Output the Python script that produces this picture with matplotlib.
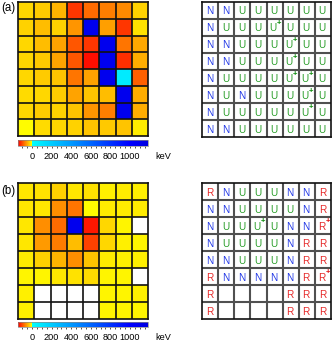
import numpy as np
import matplotlib
matplotlib.use('Agg')
import matplotlib.pyplot as plt
import matplotlib.transforms as mtransforms
from matplotlib.colors import LinearSegmentedColormap, Normalize
from matplotlib.cm import ScalarMappable

plt.rcParams['font.family'] = ['Liberation Sans', 'DejaVu Sans']

# ---------------- data ----------------
VMIN, VMAX = -143, 1184
B = 1100           # strongly positive (blue) cells
NA = np.nan        # empty (white) cells

a_values = [
    [-23, -29, -43, -112, -83, -72, -66, -26],
    [-26, -37, -26, -60, B, -54, -112, -17],
    [-23, -37, -52, -94, -112, B, -77, -49],
    [-23, -31, -52, -94, -135, B, -117, -46],
    [-23, -29, -34, -77, -52, B, 80, -89],
    [-20, -23, -29, -52, -34, -37, B, -46],
    [-23, -29, -26, -34, -60, -72, B, -46],
    [-3, -20, -23, -26, -34, -31, -34, -11],
]

b_values = [
    [-14, -17, -26, -14, -17, -9, -11, -9],
    [-14, -14, -63, -77, -3, -11, -11, -11],
    [-14, -63, -83, B, -129, -23, -6, NA],
    [-14, -57, -74, -37, -106, -23, -9, -6],
    [-11, -26, -43, -63, -34, -11, -9, -9],
    [-6, -6, -14, -17, -20, -6, -6, NA],
    [-9, NA, NA, NA, NA, -6, -6, -9],
    [-9, NA, NA, NA, NA, -6, -6, -6],
]

a_labels = [
    "N N U U U U U U",
    "N U U U U+ U U U",
    "N N U U U U+ U U",
    "N N U U U U+ U U",
    "N U U U U U+ U+ U",
    "N U N U U U U+ U",
    "N U U U U U U+ U",
    "N N U U U U U U",
]

b_labels = [
    "R N U U U N N R",
    "N N U U U U N R",
    "N U U U+ U N N R+",
    "N U U U U N R R",
    "N N U U U N R R",
    "R N N N N N R R+",
    "R - - - - R R R",
    "R - - - - R R R",
]

cbar_ticks = [0, 200, 400, 600, 800, 1000]
cbar_unit = "keV"
panel_names = ["(a)", "(b)"]

letter_colors = {"N": "#2238e6", "U": "#2a9e2a", "R": "#e62a2a"}
plus_colors = {"N": "#1030d0", "U": "#0a8a0a", "R": "#e01010"}

# ---------------- colormap ----------------
z = (0 - VMIN) / (VMAX - VMIN)
zb = (1000 - VMIN) / (VMAX - VMIN)
cmap = LinearSegmentedColormap.from_list(
    "ryb",
    [(0.0, (1, 0, 0)), (z - 0.001, (1, 1, 0)), (z, (0, 1, 1)),
     (zb, (0, 0, 1)), (1.0, (0, 0, 0.88))], N=1024)
norm = Normalize(VMIN, VMAX)

W, H = 332, 344
fig = plt.figure(figsize=(W / 100, H / 100), dpi=100)


def frac(x0, y0, x1, y1):
    return [x0 / W, 1 - y1 / H, (x1 - x0) / W, (y1 - y0) / H]


def heat(rect, values):
    ax = fig.add_axes(rect)
    arr = np.ma.masked_invalid(np.array(values, dtype=float))
    ax.set_facecolor("white")
    ax.pcolormesh(np.arange(9), np.arange(9), arr, cmap=cmap, norm=norm)
    ax.vlines(np.arange(1, 8), 0, 8, color="#111111", lw=1.2)
    ax.hlines(np.arange(1, 8), 0, 8, color="#111111", lw=1.2)
    ax.set_xlim(0, 8)
    ax.set_ylim(8, 0)
    ax.set_xticks([])
    ax.set_yticks([])
    for s in ax.spines.values():
        s.set_linewidth(1.2)
        s.set_color("#111111")
    return ax


def letters(rect, rows):
    ax = fig.add_axes(rect)
    ax.set_facecolor("white")
    ax.vlines(np.arange(1, 8), 0, 8, color="#505050", lw=1.5)
    ax.hlines(np.arange(1, 8), 0, 8, color="#505050", lw=1.5)
    for r, row in enumerate(rows):
        for c, tok in enumerate(row.split()):
            if tok == "-":
                continue
            L = tok[0]
            plus = tok.endswith("+")
            xc = c + (0.40 if plus else 0.46)
            ax.text(xc, r + 0.56, L, color=letter_colors[L], fontsize=7.2,
                    ha="center", va="center")
            if plus:
                ax.text(c + 0.78, r + 0.28, "+", color=plus_colors[L],
                        fontsize=5.5, fontweight="bold",
                        ha="center", va="center")
    ax.set_xlim(0, 8)
    ax.set_ylim(8, 0)
    ax.set_xticks([])
    ax.set_yticks([])
    for s in ax.spines.values():
        s.set_linewidth(1.2)
        s.set_color("#111111")
    return ax


TL, TP = 1.5, 2.8


def cbar(rect):
    cax = fig.add_axes(rect)
    sm = ScalarMappable(norm=norm, cmap=cmap)
    cb = fig.colorbar(sm, cax=cax, orientation="horizontal")
    cb.outline.set_linewidth(0.5)
    cb.outline.set_edgecolor("#888888")
    cb.set_ticks(cbar_ticks)
    cb.set_ticklabels([str(t) for t in cbar_ticks])
    cax.set_xticks(np.arange(-100, 1151, 50), minor=True)
    cax.tick_params(axis="x", which="both", length=TL, width=0.6,
                    direction="out", pad=TP, labelsize=6.6, color="#333333")
    tr = mtransforms.offset_copy(cax.transAxes, fig=fig, x=0, y=-(TL + TP),
                                 units="points")
    cax.text(1.12, 0, cbar_unit, transform=tr,
             ha="center", va="top", fontsize=6.6)
    return cax


heat(frac(18, 2, 148, 136), a_values)
cbar(frac(18, 140, 148, 146))
letters(frac(202, 2, 331, 137), a_labels)

heat(frac(18, 183, 148, 319), b_values)
cbar(frac(18, 322, 148, 327))
letters(frac(202, 183, 331, 319), b_labels)

fig.text(8 / W, 1 - 7.5 / H, panel_names[0], ha="center", va="center",
         fontsize=8.3)
fig.text(8 / W, 1 - 191 / H, panel_names[1], ha="center", va="center",
         fontsize=8.3)

fig.savefig("out.png", dpi=100)
